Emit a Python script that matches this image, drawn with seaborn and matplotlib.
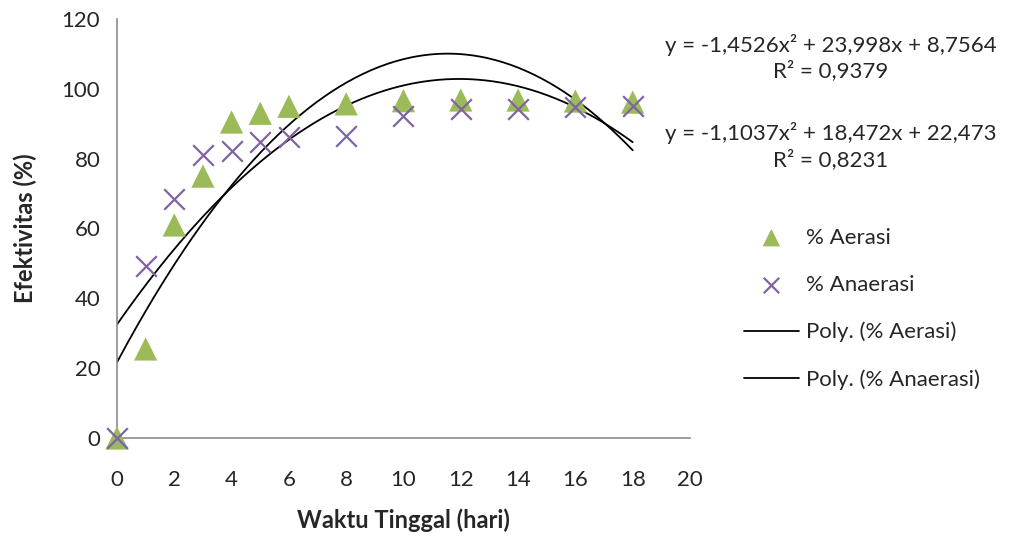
import numpy as np
import pandas as pd
import matplotlib
matplotlib.use("Agg")
import matplotlib.pyplot as plt
import seaborn as sns

# data
waktu = [0, 1, 2, 3, 4, 5, 6, 8, 10, 12, 14, 16, 18]
aerasi = [0, 25.5, 61, 75, 90.5, 93, 95, 95.7, 96.6, 96.8, 96.8, 96.5, 96.2]
anaerasi = [0, 49.3, 68.5, 81, 82.2, 84.8, 86.2, 86.5, 92.3, 94.3, 94.3, 94.8, 95]
eq_aerasi = "y = -1,4526x² + 23,998x + 8,7564\nR² = 0,9379"
eq_anaerasi = "y = -1,1037x² + 18,472x + 22,473\nR² = 0,8231"

sns.set_style("white")
plt.rcParams['font.family'] = ['Lato', 'DejaVu Sans']

df = pd.DataFrame({'waktu': waktu, 'aerasi': aerasi, 'anaerasi': anaerasi})

# polynomial trendlines (order 2)
xs = np.linspace(0, 18, 200)
fit_a = np.polyval(np.polyfit(waktu, aerasi, 2), xs)
fit_n = np.polyval(np.polyfit(waktu, anaerasi, 2), xs)
trend = pd.DataFrame({'x': xs, 'a': fit_a, 'n': fit_n})

fig = plt.figure(figsize=(10.12, 5.37), dpi=100)
ax = fig.add_axes([0.1156, 0.1844, 0.5662, 0.7802])

green = '#9BBB59'
purple = '#8064A2'

sns.scatterplot(data=df, x='waktu', y='aerasi', marker='^', s=280, color=green,
                edgecolor='none', ax=ax, label='% Aerasi', zorder=3, clip_on=False)
sns.scatterplot(data=df, x='waktu', y='anaerasi', marker='x', s=220, color=purple,
                linewidth=1.6, ax=ax, label='% Anaerasi', zorder=4, clip_on=False)
sns.lineplot(data=trend, x='x', y='a', color='black', linewidth=1.3, ax=ax,
             label='Poly. (% Aerasi)', zorder=2)
sns.lineplot(data=trend, x='x', y='n', color='black', linewidth=1.3, ax=ax,
             label='Poly. (% Anaerasi)', zorder=2)

ax.set_xlim(0, 20)
ax.set_ylim(0, 120)
ax.set_xticks(range(0, 21, 2))
ax.set_yticks(range(0, 121, 20))
ax.tick_params(axis='x', length=0, labelsize=16, pad=23)
ax.tick_params(axis='y', length=0, labelsize=16, pad=12)
for s in ['top', 'right']:
    ax.spines[s].set_visible(False)
for s in ['left', 'bottom']:
    ax.spines[s].set_color('#8C8C8C')
    ax.spines[s].set_linewidth(1.2)

ax.set_xlabel('Waktu Tinggal (hari)', fontsize=17, fontweight='bold', labelpad=13)
ax.set_ylabel('Efektivitas (%)', fontsize=17, fontweight='bold', labelpad=18)

ax.legend(loc='center left', bbox_to_anchor=(0.715, 0.425), bbox_transform=fig.transFigure,
          frameon=False, fontsize=16, labelspacing=1.22, handlelength=2.5,
          handletextpad=0.3, markerscale=0.75)

fig.text(0.821, 0.892, eq_aerasi, ha='center', va='center', fontsize=16, linespacing=1.25)
fig.text(0.821, 0.728, eq_anaerasi, ha='center', va='center', fontsize=16, linespacing=1.25)

fig.savefig('out.png', dpi=100)
